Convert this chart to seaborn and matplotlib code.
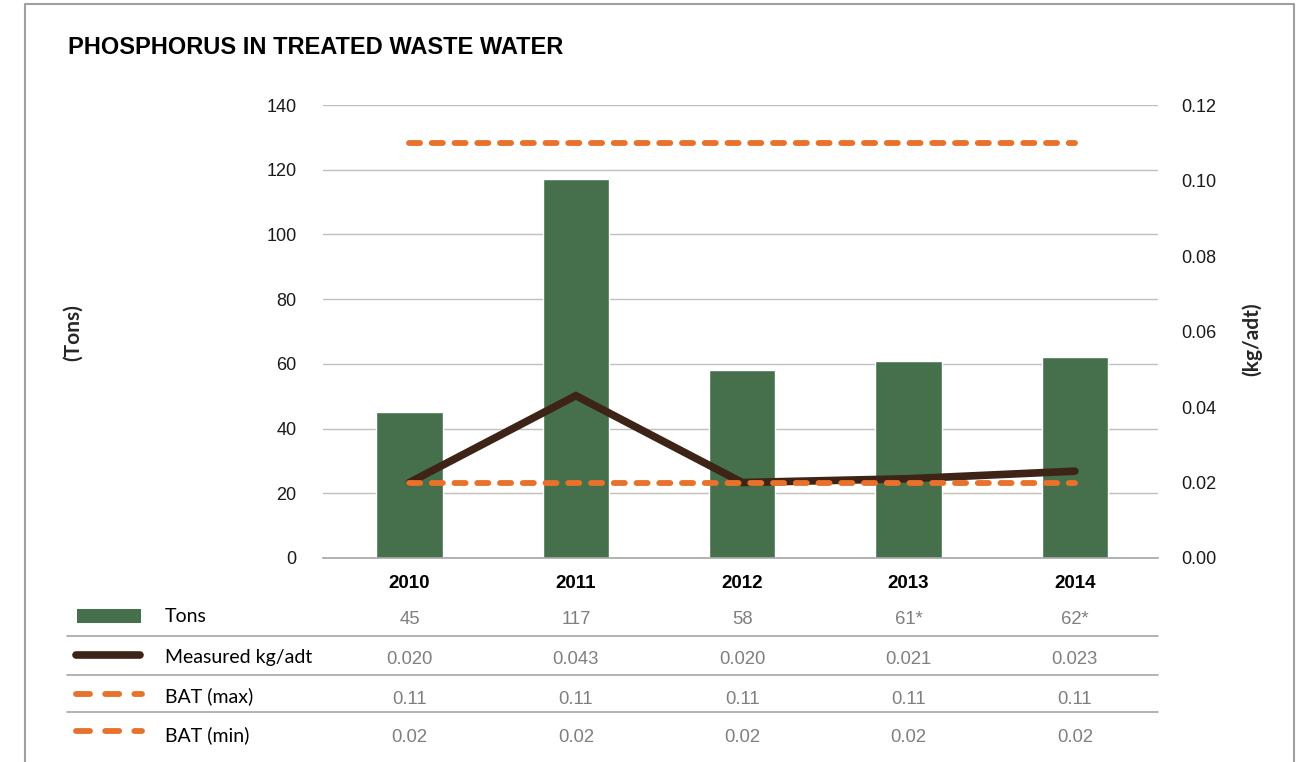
import numpy as np
import pandas as pd
import matplotlib
matplotlib.use("Agg")
import matplotlib.pyplot as plt
import matplotlib.transforms as mtransforms
from matplotlib.patches import Rectangle
from matplotlib.lines import Line2D
import seaborn as sns

# ---- data ----
years = ["2010", "2011", "2012", "2013", "2014"]
tons = [45, 117, 58, 61, 62]
tons_labels = ["45", "117", "58", "61*", "62*"]
measured = [0.020, 0.043, 0.020, 0.021, 0.023]
measured_labels = ["0.020", "0.043", "0.020", "0.021", "0.023"]
bat_max = [0.11, 0.11, 0.11, 0.11, 0.11]
bat_min = [0.02, 0.02, 0.02, 0.02, 0.02]
left_ticks = [0, 20, 40, 60, 80, 100, 120, 140]
right_ticks = [0.00, 0.02, 0.04, 0.06, 0.08, 0.10, 0.12]
series_names = ["Tons", "Measured kg/adt", "BAT (max)", "BAT (min)"]

GREEN = "#45704B"
BROWN = "#3E2416"
ORANGE = "#E8712B"
GRID = "#BFBFBF"
VALGRAY = "#7F7F7F"

sns.set_theme(style="white")
plt.rcParams["font.family"] = ["Liberation Sans", "DejaVu Sans"]

W, H = 1303, 762
fig = plt.figure(figsize=(W / 100, H / 100), dpi=100)

def fx(px):
    return px / W

def fy(py):
    return 1 - py / H

ax = fig.add_axes([fx(323), fy(558), fx(1158) - fx(323), fy(105) - fy(558)])
df = pd.DataFrame({"year": years, "tons": tons})
sns.barplot(data=df, x="year", y="tons", color=GREEN, saturation=1, width=0.4,
            ax=ax, zorder=2)
ax.set_ylim(0, 140)
ax.set_yticks(left_ticks)
ax.set_xlim(-0.52, 4.5)
ax.grid(axis="y", color=GRID, linewidth=1.0, zorder=0)
ax.set_axisbelow(True)
for s in ["left", "right", "top"]:
    ax.spines[s].set_visible(False)
ax.spines["bottom"].set_color("#A6A6A6")
ax.spines["bottom"].set_linewidth(1.2)
ax.tick_params(axis="y", length=0, pad=19, labelsize=13, labelcolor="#1a1a1a")
ax.tick_params(axis="x", length=0, pad=12, labelsize=13.5)
for t in ax.get_xticklabels():
    t.set_fontweight("bold")
    t.set_color("black")
ax.set_xlabel("")
ax.set_ylabel("")

ax2 = ax.twinx()
xpos = np.arange(len(years))
sns.lineplot(x=xpos, y=bat_max, ax=ax2, color=ORANGE, linewidth=4.2,
             linestyle=(0, (1.9, 2.0)), dash_capstyle="round", zorder=3)
sns.lineplot(x=xpos, y=measured, ax=ax2, color=BROWN, linewidth=5.5,
             solid_capstyle="round", solid_joinstyle="miter", zorder=4)
sns.lineplot(x=xpos, y=bat_min, ax=ax2, color=ORANGE, linewidth=4.2,
             linestyle=(0, (1.9, 2.0)), dash_capstyle="round", zorder=5)
ax2.set_ylim(0, 0.12)
ax2.set_yticks(right_ticks)
ax2.set_yticklabels([f"{v:.2f}" for v in right_ticks])
ax2.set_xlim(-0.52, 4.5)
ax2.tick_params(axis="y", length=0, pad=16.5, labelsize=13, labelcolor="#1a1a1a")
for s in ax2.spines.values():
    s.set_visible(False)
ax2.set_ylabel("")
ax2.grid(False)

# title and axis labels
fig.text(fx(68), fy(48), "PHOSPHORUS IN TREATED WASTE WATER", fontsize=17,
         fontweight="bold", ha="left", va="center", color="black")
fig.text(fx(73), fy(333), "(Tons)", rotation=90, fontsize=15, fontweight="bold",
         ha="center", va="center", family=["Lato", "DejaVu Sans"])
fig.text(fx(1252), fy(339), "(kg/adt)", rotation=90, fontsize=15, fontweight="bold",
         ha="center", va="center", family=["Lato", "DejaVu Sans"])

# data table beneath
trans = mtransforms.blended_transform_factory(ax.transData, fig.transFigure)
row_y = [616, 656, 695, 734]
row_vals = [tons_labels, measured_labels,
            [f"{v:.2f}" for v in bat_max], [f"{v:.2f}" for v in bat_min]]
for ry, vals, name in zip(row_y, row_vals, series_names):
    for i, v in enumerate(vals):
        fig.text(i, fy(ry + 4), v, transform=trans, ha="center", va="center",
                 fontsize=13.3, color=VALGRAY)
    fig.text(fx(165), fy(ry + 1), name, ha="left", va="center", fontsize=14,
             color="black", family=["Lato", "DejaVu Sans"])
for ly in [636, 675, 712]:
    fig.add_artist(Line2D([fx(67), fx(1158)], [fy(ly), fy(ly)], color="#A6A6A6",
                          linewidth=1.2, transform=fig.transFigure))

# legend keys
fig.add_artist(Rectangle((fx(77), fy(623)), fx(141) - fx(77), fy(609) - fy(623),
                         facecolor=GREEN, edgecolor="none", transform=fig.transFigure))
fig.add_artist(Line2D([fx(76), fx(140)], [fy(655), fy(655)], color=BROWN,
                      linewidth=5.5, solid_capstyle="round", transform=fig.transFigure))
for ky in [694, 731]:
    fig.add_artist(Line2D([fx(76), fx(142)], [fy(ky), fy(ky)], color=ORANGE,
                          linewidth=4.2, linestyle=(0, (2.4, 2.6)),
                          dash_capstyle="round", transform=fig.transFigure))

# outer frame
fig.add_artist(Line2D([fx(25), fx(25), fx(1294), fx(1294)],
                      [0, fy(4), fy(4), 0], color="#A0A0A0", linewidth=1.5,
                      transform=fig.transFigure))

fig.savefig("out.png", dpi=100)
